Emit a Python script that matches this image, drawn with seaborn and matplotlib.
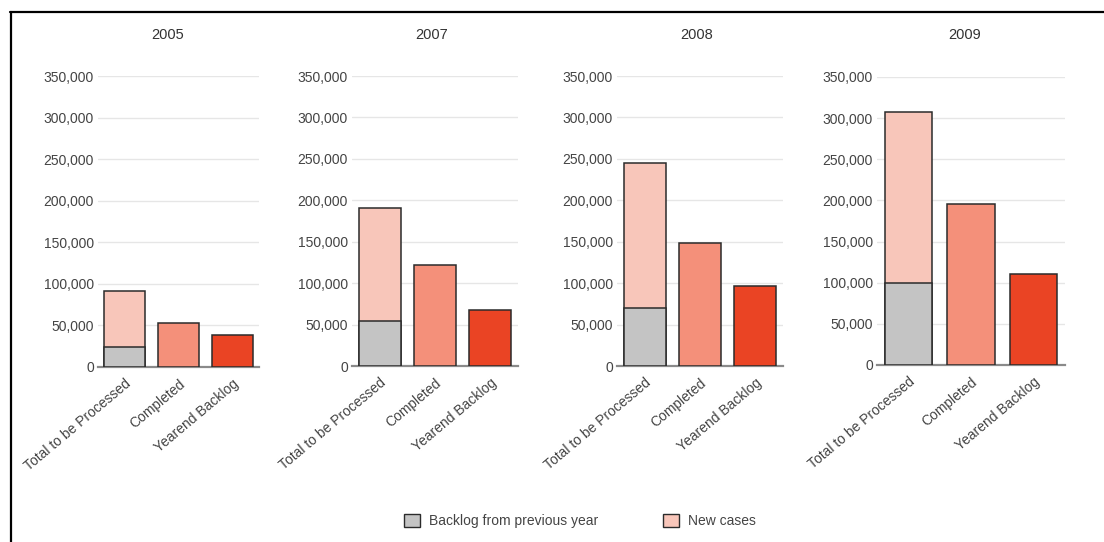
import matplotlib
matplotlib.use("Agg")
import matplotlib.pyplot as plt
import matplotlib.patches as mpatches
from matplotlib.lines import Line2D
from matplotlib.ticker import FuncFormatter
import pandas as pd
import seaborn as sns

# data
years = ["2005", "2007", "2008", "2009"]
categories = ["Total to be Processed", "Completed", "Yearend Backlog"]
backlog_prev = [24000, 54000, 70000, 100000]
new_cases = [68000, 137000, 175000, 208000]
completed = [53000, 122000, 149000, 196000]
yearend_backlog = [38000, 68000, 96000, 111000]

c_backlog = "#c4c4c4"
c_new = "#f8c6ba"
c_completed = "#f4907a"
c_yearend = "#ea4424"
edge = "#2b2b2b"
txt = "#444444"

sns.set_theme(style="white")
plt.rcParams["font.family"] = ["Liberation Sans", "DejaVu Sans"]

W, H = 1104, 542
fig = plt.figure(figsize=(W / 100, H / 100), dpi=100)

# axes boxes in pixels: left, right, top, bottom
boxes = [(98, 259, 76, 367), (352, 518, 76, 366), (617, 783, 76, 366), (877, 1065, 77, 365)]
title_x = [168, 432, 697, 965]

for i, year in enumerate(years):
    l, r, t, b = boxes[i]
    ax = fig.add_axes([l / W, 1 - b / H, (r - l) / W, (b - t) / H])

    totals = pd.DataFrame({
        "cat": categories,
        "value": [backlog_prev[i] + new_cases[i], completed[i], yearend_backlog[i]],
    })
    sns.barplot(data=totals, x="cat", y="value", hue="cat", order=categories,
                palette=[c_new, c_completed, c_yearend], legend=False, saturation=1,
                width=0.76, edgecolor=edge, linewidth=1.1, errorbar=None, ax=ax)
    prev = pd.DataFrame({"cat": [categories[0]], "value": [backlog_prev[i]]})
    sns.barplot(data=prev, x="cat", y="value", order=categories, color=c_backlog,
                width=0.76, edgecolor=edge, linewidth=1.1, errorbar=None, ax=ax,
                saturation=1)
    for p in ax.patches:
        p.set_zorder(3)

    ax.set_ylim(0, 350000)
    ax.set_xlim(-0.5, 2.5)
    ax.set_yticks(range(0, 350001, 50000))
    ax.yaxis.set_major_formatter(FuncFormatter(lambda v, _: f"{int(v):,}"))
    ax.grid(axis="y", color="#e6e6e6", linewidth=1.0, zorder=0)
    ax.set_axisbelow(True)
    ax.set_xlabel("")
    ax.set_ylabel("")
    for s in ["top", "right", "left"]:
        ax.spines[s].set_visible(False)
    ax.spines["bottom"].set_color("#8a8a8a")
    ax.spines["bottom"].set_linewidth(1.6)
    ax.tick_params(axis="y", length=0, pad=3, labelsize=10, labelcolor=txt)
    ax.tick_params(axis="x", which="major", length=0, pad=7, labelsize=10, labelcolor=txt)
    ax.set_xticks([0.5, 1.5], minor=True)
    ax.tick_params(axis="x", which="minor", length=5, width=1.2, color=edge)
    for lab in ax.get_xticklabels():
        lab.set_rotation(40)
        lab.set_ha("right")
        lab.set_va("top")
        lab.set_rotation_mode("anchor")

    fig.text(title_x[i] / W, 1 - 35 / H, year, ha="center", va="center",
             fontsize=10.5, color="#333333")

# legend
handles = [mpatches.Patch(facecolor=c_backlog, edgecolor=edge, linewidth=1.0,
                          label="Backlog from previous year"),
           mpatches.Patch(facecolor=c_new, edgecolor=edge, linewidth=1.0,
                          label="New cases")]
fig.legend(handles=handles, loc="center", bbox_to_anchor=(580 / W, 1 - 521 / H), ncol=2,
           frameon=False, fontsize=10, handlelength=1.15, handleheight=1.15,
           columnspacing=4.6, handletextpad=0.7, labelcolor=txt)

# outer frame (left and top edges visible)
fig.add_artist(Line2D([10.5 / W, 10.5 / W], [0, 1 - 12 / H], color="black", linewidth=1.6,
                      transform=fig.transFigure))
fig.add_artist(Line2D([10 / W, 1], [1 - 12 / H, 1 - 12 / H], color="black", linewidth=1.6,
                      transform=fig.transFigure))

fig.savefig("out.png", dpi=100)
